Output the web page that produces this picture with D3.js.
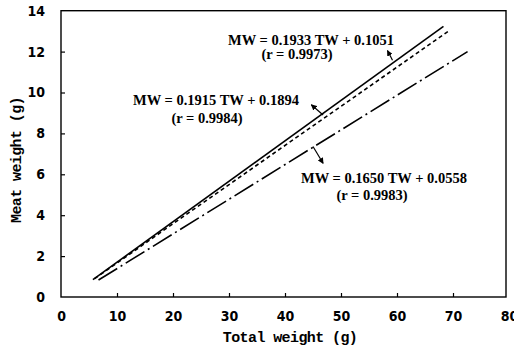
<!DOCTYPE html>
<html>
<head>
<meta charset="utf-8">
<script src="https://cdn.jsdelivr.net/npm/d3@7"></script>
<style>
  body { margin: 0; background: #fff; }
  svg { display: block; }
  .tick text { font-family: "Liberation Sans Narrow", "DejaVu Sans Condensed", sans-serif; font-weight: bold; font-size: 14px; fill: #000; }
  .tick line { stroke: #000; stroke-width: 1.2; }
  .title { font-family: "Liberation Mono", "DejaVu Sans Mono", monospace; font-weight: bold; font-size: 15px; letter-spacing: -0.6px; fill: #000; }
  .eq { font-family: "Liberation Serif", "Times New Roman", serif; font-weight: bold; font-size: 14.5px; fill: #000; }
</style>
</head>
<body>
<div id="chart"></div>
<script>
// DATA //

const xTicks = [ 0, 10, 20, 30, 40, 50, 60, 70, 80 ];
const yTicks = [ 0, 2, 4, 6, 8, 10, 12, 14 ];

// Regression lines, end points (TW in g, MW in g).
const solidTW = [ 5.7, 68.3 ];
const solidMW = [ 0.85, 13.23 ];
const dashedTW = [ 6.0, 69.4 ];
const dashedMW = [ 0.9, 13.04 ];
const dashDotTW = [ 6.7, 72.6 ];
const dashDotMW = [ 0.83, 12.0 ];

const equations = [
	[ 'MW = 0.1933 TW + 0.1051', '(r = 0.9973)' ],
	[ 'MW = 0.1915 TW + 0.1894', '(r = 0.9984)' ],
	[ 'MW = 0.1650 TW + 0.0558', '(r = 0.9983)' ]
];

const xTitle = 'Total weight (g)';
const yTitle = 'Meat weight (g)';


// SETUP //

const width = 514;
const height = 350;

const x = d3.scaleLinear().domain([ 0, 80 ]).range([ 61, 509 ]);
const y = d3.scaleLinear().domain([ 0, 14 ]).range([ 297, 10.7 ]);

const svg = d3.select( '#chart' ).append( 'svg' )
	.attr( 'width', width )
	.attr( 'height', height );

svg.append( 'defs' ).append( 'marker' )
	.attr( 'id', 'head' )
	.attr( 'viewBox', '0 0 8 8' )
	.attr( 'refX', 7 )
	.attr( 'refY', 4 )
	.attr( 'markerWidth', 6 )
	.attr( 'markerHeight', 6 )
	.attr( 'markerUnits', 'userSpaceOnUse' )
	.attr( 'orient', 'auto' )
	.append( 'path' )
	.attr( 'd', 'M0,0 L8,4 L0,8 Z' )
	.attr( 'fill', '#000' );

// Frame (box) around the plot area.
svg.append( 'rect' )
	.attr( 'x', x( 0 ) )
	.attr( 'y', y( 14 ) )
	.attr( 'width', 506 - x( 0 ) )
	.attr( 'height', y( 0 ) - y( 14 ) )
	.attr( 'fill', 'none' )
	.attr( 'stroke', '#000' )
	.attr( 'stroke-width', 1.4 );

// Axes: ticks point inward.
const xAxis = svg.append( 'g' )
	.attr( 'transform', 'translate(0,' + y( 0 ) + ')' )
	.call( d3.axisBottom( x ).tickValues( xTicks ).tickSize( -4 ).tickPadding( 14 ).tickFormat( d3.format( 'd' ) ) );
xAxis.select( '.domain' ).remove();
xAxis.selectAll( '.tick line' ).filter( d => d === 0 || d === 80 ).remove();

const yAxis = svg.append( 'g' )
	.attr( 'transform', 'translate(' + x( 0 ) + ',0)' )
	.call( d3.axisLeft( y ).tickValues( yTicks ).tickSize( -4 ).tickPadding( 16 ).tickFormat( d3.format( 'd' ) ) );
yAxis.select( '.domain' ).remove();
yAxis.selectAll( '.tick line' ).filter( d => d === 0 || d === 14 ).remove();

// Axis titles.
svg.append( 'text' )
	.attr( 'class', 'title' )
	.attr( 'x', 290 )
	.attr( 'y', 342 )
	.attr( 'text-anchor', 'middle' )
	.text( xTitle );

svg.append( 'text' )
	.attr( 'class', 'title' )
	.attr( 'transform', 'translate(21,160) rotate(-90)' )
	.attr( 'text-anchor', 'middle' )
	.text( yTitle );

// Regression lines.
const line = d3.line()
	.x( d => x( d[ 0 ] ) )
	.y( d => y( d[ 1 ] ) );

const series = [
	{ tw: solidTW, mw: solidMW, dash: null },
	{ tw: dashedTW, mw: dashedMW, dash: '4,3' },
	{ tw: dashDotTW, mw: dashDotMW, dash: '22,4,2,4' }
];

svg.selectAll( 'path.fit' )
	.data( series )
	.enter().append( 'path' )
	.attr( 'class', 'fit' )
	.attr( 'd', d => line( d3.zip( d.tw, d.mw ) ) )
	.attr( 'fill', 'none' )
	.attr( 'stroke', '#000' )
	.attr( 'stroke-width', 1.6 )
	.attr( 'stroke-dasharray', d => d.dash );

// Equation labels with leader arrows (tail on the line, head at the label).
const annotations = [
	{ tx: 311, ty: 45, rx: 297, ry: 59, from: [ 59.2, 11.58 ], to: [ 58.3, 12.05 ] },
	{ tx: 216, ty: 105, rx: 207, ry: 123, from: [ 46.8, 8.9 ], to: [ 44.7, 9.4 ] },
	{ tx: 384, ty: 183, rx: 372, ry: 200, from: [ 45.0, 7.36 ], to: [ 46.8, 6.54 ] }
];

annotations.forEach( ( a, i ) => {
	svg.append( 'text' )
		.attr( 'class', 'eq' )
		.attr( 'x', a.tx )
		.attr( 'y', a.ty )
		.attr( 'text-anchor', 'middle' )
		.text( equations[ i ][ 0 ] );
	svg.append( 'text' )
		.attr( 'class', 'eq' )
		.attr( 'x', a.rx )
		.attr( 'y', a.ry )
		.attr( 'text-anchor', 'middle' )
		.text( equations[ i ][ 1 ] );
	svg.append( 'line' )
		.attr( 'x1', x( a.from[ 0 ] ) )
		.attr( 'y1', y( a.from[ 1 ] ) )
		.attr( 'x2', x( a.to[ 0 ] ) )
		.attr( 'y2', y( a.to[ 1 ] ) )
		.attr( 'stroke', '#000' )
		.attr( 'stroke-width', 1.2 )
		.attr( 'marker-end', 'url(#head)' );
});
</script>
</body>
</html>
